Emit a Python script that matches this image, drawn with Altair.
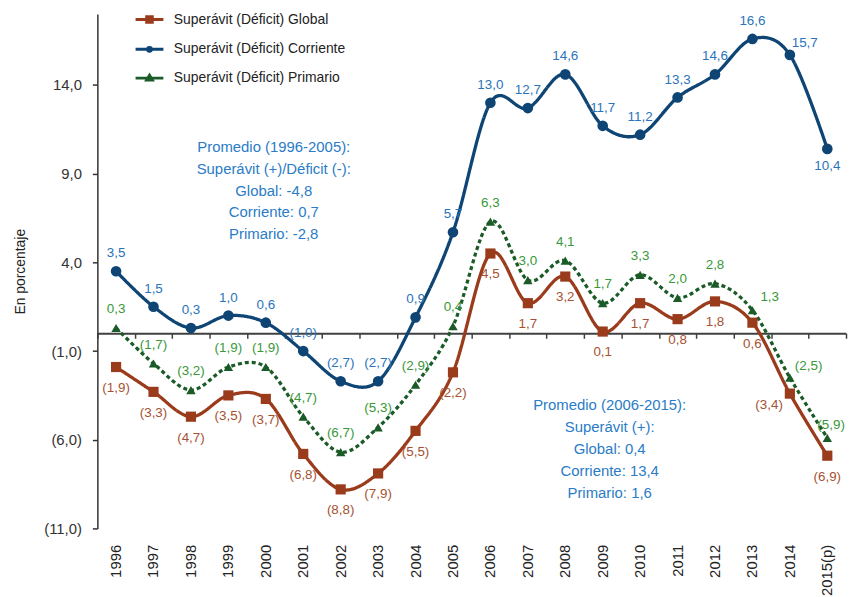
import altair as alt
import pandas as pd

years = ["1996", "1997", "1998", "1999", "2000", "2001", "2002", "2003", "2004", "2005",
         "2006", "2007", "2008", "2009", "2010", "2011", "2012", "2013", "2014", "2015(p)"]
global_vals = [-1.9, -3.3, -4.7, -3.5, -3.7, -6.8, -8.8, -7.9, -5.5, -2.2,
               4.5, 1.7, 3.2, 0.1, 1.7, 0.8, 1.8, 0.6, -3.4, -6.9]
corriente_vals = [3.5, 1.5, 0.3, 1.0, 0.6, -1.0, -2.7, -2.7, 0.9, 5.7,
                  13.0, 12.7, 14.6, 11.7, 11.2, 13.3, 14.6, 16.6, 15.7, 10.4]
primario_vals = [0.3, -1.7, -3.2, -1.9, -1.9, -4.7, -6.7, -5.3, -2.9, 0.4,
                 6.3, 3.0, 4.1, 1.7, 3.3, 2.0, 2.8, 1.3, -2.5, -5.9]
series_names = ["Superávit (Déficit) Global", "Superávit (Déficit) Corriente",
                "Superávit (Déficit) Primario"]
y_ticks = [-11, -6, -1, 4, 9, 14]
note_1 = "Promedio (1996-2005):\nSuperávit (+)/Déficit (-):\nGlobal: -4,8\nCorriente: 0,7\nPrimario: -2,8"
note_2 = "Promedio (2006-2015):\nSuperávit (+):\nGlobal:  0,4\nCorriente: 13,4\nPrimario: 1,6"

line_colors = ["#9A3B1B", "#0E4574", "#1A5B27"]
label_colors = ["#A65232", "#2B74BA", "#3A983A"]
note_color = "#2A7CC6"
FONT = "Liberation Sans"

rows = []
for name, vals in zip(series_names, [global_vals, corriente_vals, primario_vals]):
    for y, v in zip(years, vals):
        rows.append({"year": y, "series": name, "value": v})
df = pd.DataFrame(rows)

W, H = 754, 518
YMIN, YMAX = -11, 18
zero_offset = -H * (0 - YMIN) / (YMAX - YMIN)

xscale = alt.Scale(type="band", domain=years, paddingInner=0, paddingOuter=0)
yscale = alt.Scale(domain=[YMIN, YMAX], nice=False, zero=False)

fmt = ("datum.value < 0 ? '(' + replace(format(-datum.value, '.1f'), '.', ',') + ')' : "
       "replace(format(datum.value, '.1f'), '.', ',')")

base = alt.Chart(df).transform_calculate(label=fmt)

y_label_expr = ("datum.value < 0 ? '(' + replace(format(-datum.value, '.1f'), '.', ',') + ')' : "
                "replace(format(datum.value, '.1f'), '.', ',') + '\u00a0'")

Y = alt.Y("value:Q", scale=yscale, title="En porcentaje",
          axis=alt.Axis(orient="left", values=y_ticks, labelExpr=y_label_expr, labelFontSize=15,
                        labelColor="#333", labelFont=FONT, labelPadding=11,
                        domainColor="#333", domainWidth=1.5, tickColor="#333",
                        tickSize=5, tickWidth=1.5, grid=False,
                        titleFontSize=14, titleFontWeight="normal", titleColor="#222",
                        titleFont=FONT, titlePadding=16))
X_none = alt.X("year:N", sort=years, scale=xscale, axis=None)

shape_expr = (
    f"datum.value === '{series_names[0]}' ? 'M-1,0H1M-0.2,-0.2H0.2V0.2H-0.2Z' : "
    f"datum.value === '{series_names[1]}' ? 'M-1,0H1M0.14,0A0.14,0.14,0,1,1,-0.14,0A0.14,0.14,0,1,1,0.14,0Z' : "
    "'M-1,0H1M0,-0.2L0.2,0.14H-0.2Z'"
)
color_expr = (
    f"datum.value === '{series_names[0]}' ? '{line_colors[0]}' : "
    f"datum.value === '{series_names[1]}' ? '{line_colors[1]}' : '{line_colors[2]}'"
)

legend = alt.Legend(
    title=None, orient="none", legendX=37, legendY=-10, padding=0,
    symbolSize=784, symbolStrokeWidth=3, rowPadding=5, labelOffset=9,
    labelFontSize=14, labelColor="#222", labelFont=FONT, labelLimit=400,
    symbolType=alt.ExprRef(expr=shape_expr),
    symbolFillColor=alt.ExprRef(expr=color_expr),
    symbolStrokeColor=alt.ExprRef(expr=color_expr),
    symbolOpacity=1,
)

lines = base.mark_line(interpolate="cardinal", strokeWidth=3.3).encode(
    x=alt.X("year:N", sort=years, scale=xscale, title=None,
            axis=alt.Axis(orient="bottom", labelAngle=-90, labelAlign="right",
                          labelBaseline="middle", labelPadding=16, ticks=False, domain=False,
                          labelFontSize=15, labelColor="#222", labelFont=FONT)),
    y=Y,
    color=alt.Color("series:N", scale=alt.Scale(domain=series_names, range=line_colors),
                    legend=legend, sort=series_names),
    strokeDash=alt.condition(alt.datum.series == series_names[2],
                             alt.value([4, 3]), alt.value([1, 0])),
    detail="series:N",
)

shapes = ["square", "circle", "triangle-up"]
sizes = [105, 115, 90]
points = []
for i, name in enumerate(series_names):
    if i == 0:
        xenc = alt.X("year:N", sort=years, scale=xscale, title=None,
                     axis=alt.Axis(orient="bottom", labels=False, domain=True, ticks=True,
                                   tickBand="extent", offset=zero_offset,
                                   domainColor="#404040", domainWidth=2,
                                   tickColor="#404040", tickSize=5, tickWidth=1.5, grid=False))
    else:
        xenc = X_none
    points.append(
        base.transform_filter(alt.datum.series == name)
        .mark_point(shape=shapes[i], size=sizes[i], filled=True, opacity=1, color=line_colors[i])
        .encode(x=xenc, y=Y)
    )


def labels(idx, yrs, dx, dy, align="center"):
    return (
        base.transform_filter(alt.datum.series == series_names[idx])
        .transform_filter(alt.FieldOneOfPredicate(field="year", oneOf=yrs))
        .mark_text(dx=dx, dy=dy, align=align, baseline="middle", fontSize=13.5,
                   font=FONT, color=label_colors[idx])
        .encode(x=X_none, y=Y, text="label:N")
    )


g_main = [y for y in years if y not in ["2014"]]
c_main = [y for y in years if y not in ["2014", "2015(p)"]]
p_main = [y for y in years if y not in ["2013", "2014", "2015(p)"]]

text_layers = [
    labels(0, g_main, 0, 21),
    labels(0, ["2014"], -7, 11, "right"),
    labels(1, c_main, 0, -18),
    labels(1, ["2014"], 15, -12),
    labels(1, ["2015(p)"], 0, 17),
    labels(2, p_main, 0, -19),
    labels(2, ["2013"], 8, -13, "left"),
    labels(2, ["2014"], 5, -12, "left"),
    labels(2, ["2015(p)"], -10, -13, "left"),
]

notes_df = pd.DataFrame({"year": ["2000", "2009"], "value": [10.9, -3.67], "text": [note_1, note_2]})
notes = []
for i in range(2):
    notes.append(
        alt.Chart(notes_df.iloc[[i]]).mark_text(
            align="center", baseline="top", fontSize=15, font=FONT, color=note_color,
            lineBreak="\n", lineHeight=22, dx=8 if i == 0 else 7,
        ).encode(x=X_none, y=Y, text="text:N")
    )

chart = (
    alt.layer(lines, *points, *text_layers, *notes)
    .resolve_axis(x="independent")
    .properties(width=W, height=H,
                autosize=alt.AutoSizeParams(type="none"),
                padding={"left": 90, "top": 4, "right": 2, "bottom": 75})
    .configure(font=FONT)
    .configure_view(stroke=None)
)

chart.save("out.html", embed_options={"renderer": "svg", "actions": False})
